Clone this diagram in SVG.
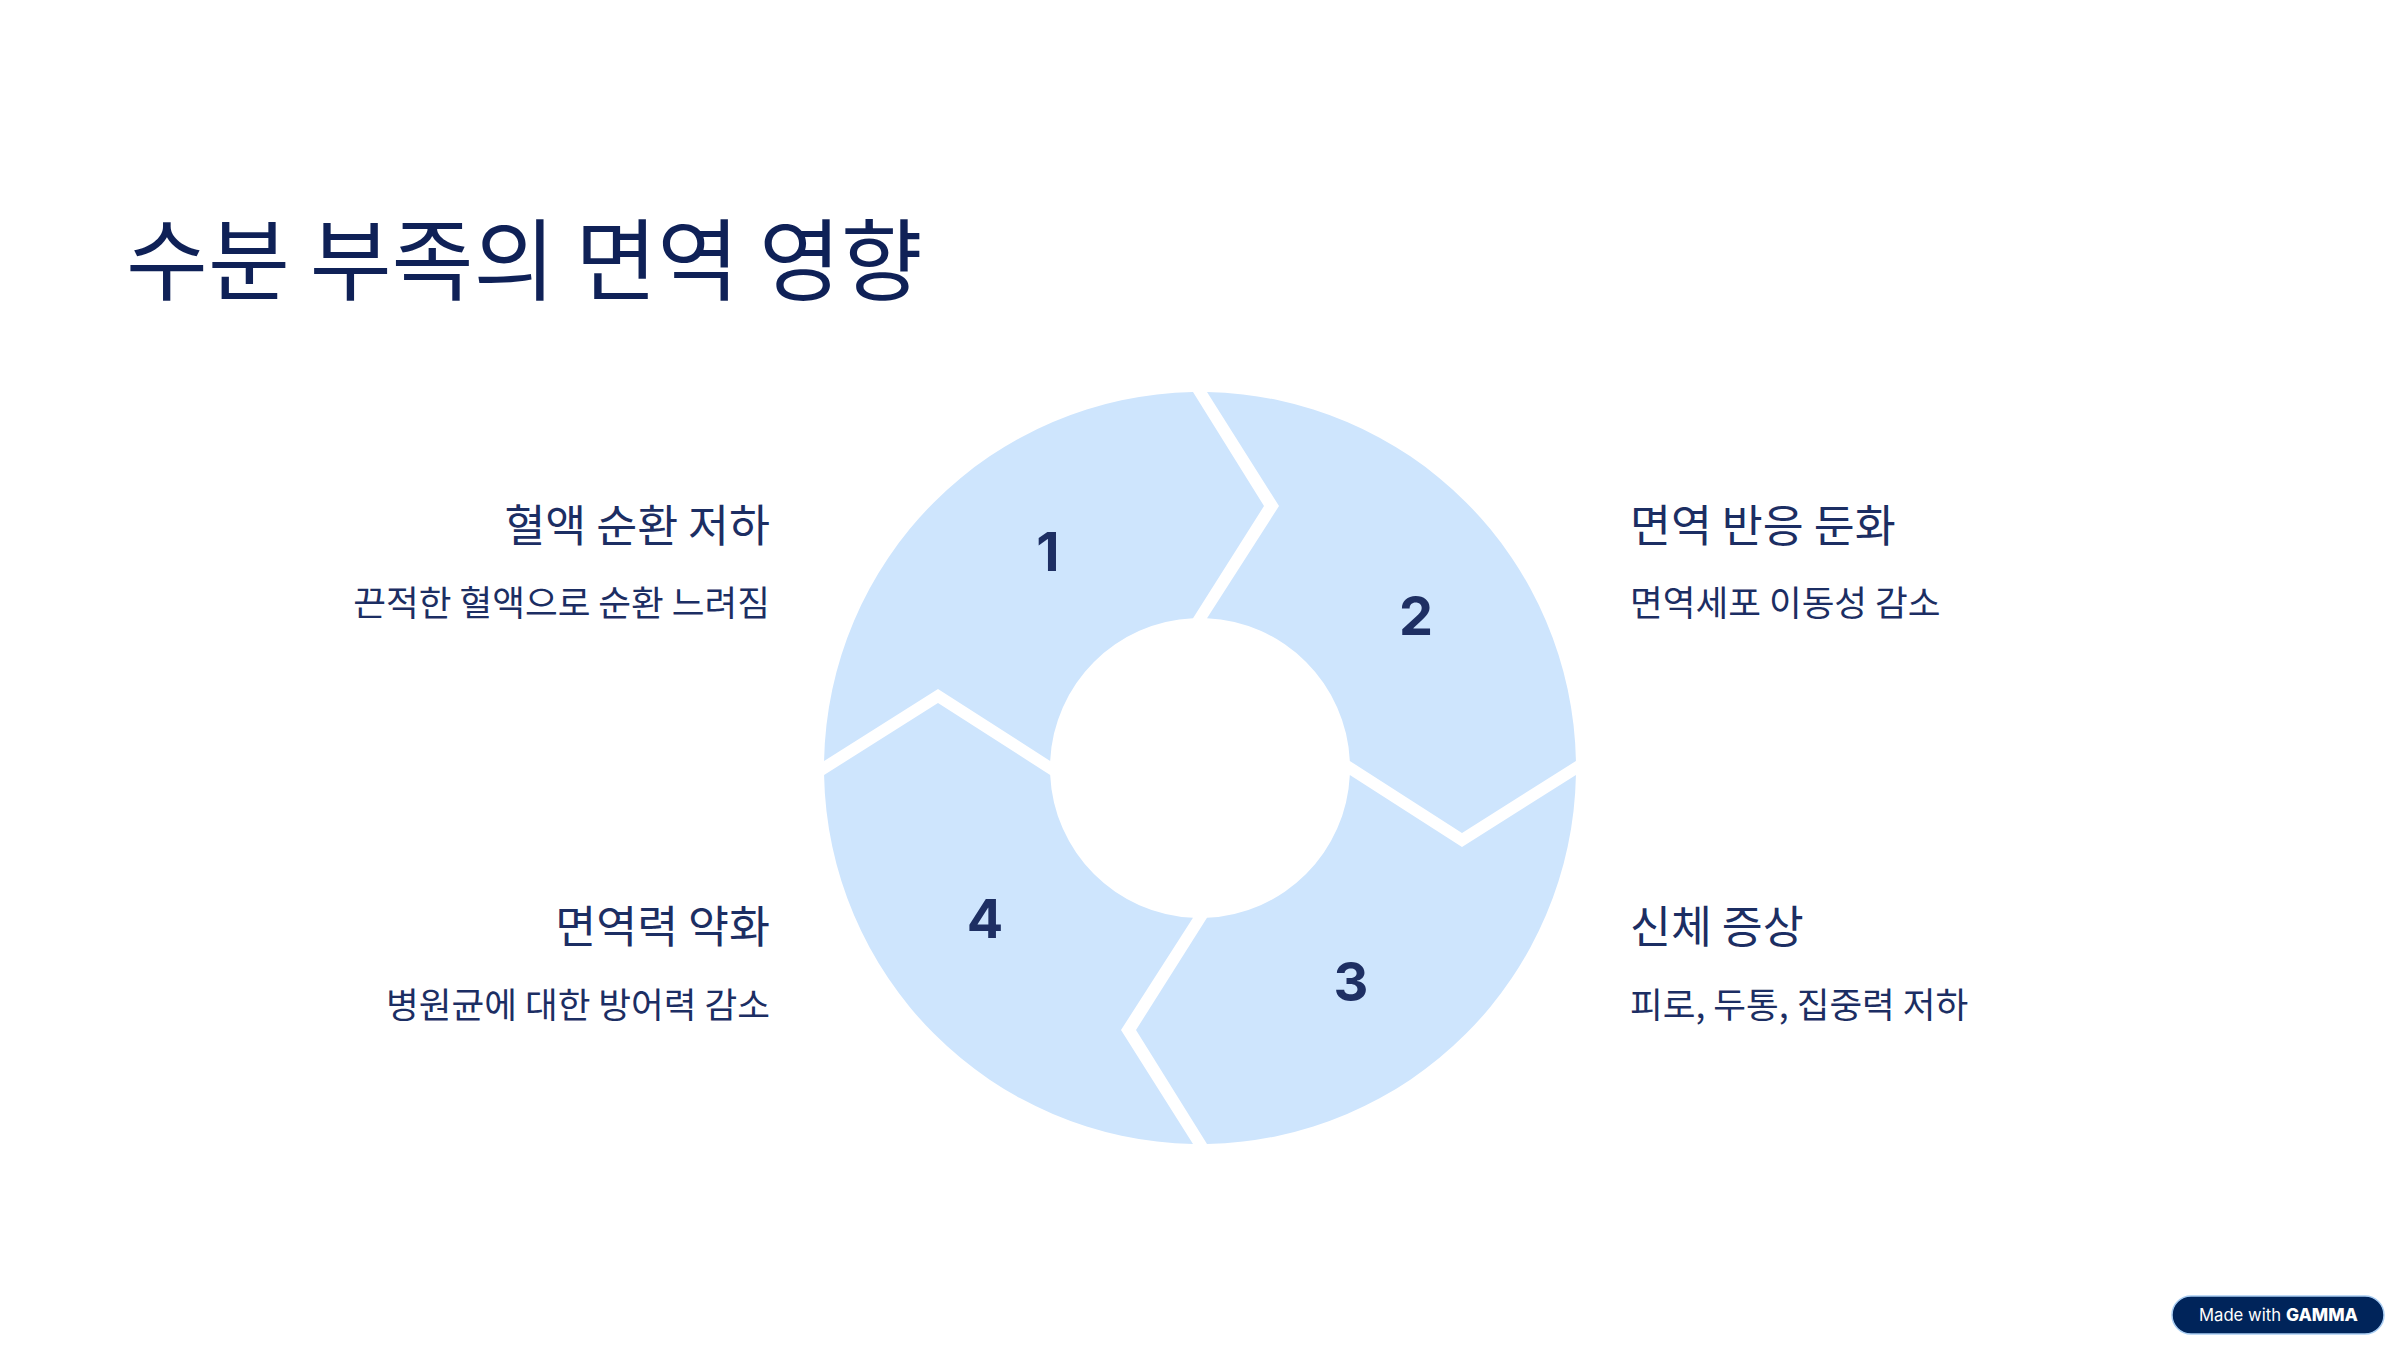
<svg xmlns="http://www.w3.org/2000/svg" width="2400" height="1350" viewBox="0 0 2400 1350">
<style>
text{font-family:"Noto Sans CJK KR","Noto Sans",sans-serif}
.title{font-size:89px;fill:#0f2157;font-weight:400}
.head{font-size:44.5px;fill:#1c2e63;font-weight:400}
.sub{font-size:35.6px;fill:#1c2e63;font-weight:400}
.seg{fill:#cee5fd}
.num{font-family:Inter,"Liberation Sans",sans-serif;font-size:54px;font-weight:700;fill:#1e2f63;text-anchor:middle}
.end{text-anchor:end}
</style>
<rect width="2400" height="1350" fill="#fff"/>
<text id="title" class="title" x="126" y="293">수분 부족의 면역 영향</text>
<g id="node-1">
<path class="seg" d="M824.07 761A376 376 0 0 1 1193 392.07L1264 506L1193 618.16A150 150 0 0 0 1050.16 761L938 689Z"/>
<text class="num" x="1048" y="571">1</text>
<text class="head end" x="770" y="542">혈액 순환 저하</text>
<text class="sub end" x="770" y="616">끈적한 혈액으로 순환 느려짐</text>
</g>
<g id="node-2">
<path class="seg" d="M1207 392.07A376 376 0 0 1 1575.93 761L1462 833L1349.84 761A150 150 0 0 0 1207 618.16L1279 506Z"/>
<text class="num" x="1416" y="635">2</text>
<text class="head" x="1630" y="542">면역 반응 둔화</text>
<text class="sub" x="1630" y="616">면역세포 이동성 감소</text>
</g>
<g id="node-3">
<path class="seg" d="M1575.93 775A376 376 0 0 1 1207 1143.93L1136 1030L1207 917.84A150 150 0 0 0 1349.84 775L1462 847Z"/>
<text class="num" x="1351" y="1001">3</text>
<text class="head" x="1630" y="943">신체 증상</text>
<text class="sub" x="1630" y="1018">피로, 두통, 집중력 저하</text>
</g>
<g id="node-4">
<path class="seg" d="M1193 1143.93A376 376 0 0 1 824.07 775L938 703L1050.16 775A150 150 0 0 0 1193 917.84L1121 1030Z"/>
<text class="num" x="985" y="938">4</text>
<text class="head end" x="770" y="943">면역력 약화</text>
<text class="sub end" x="770" y="1018">병원균에 대한 방어력 감소</text>
</g>
<g id="connectors"></g>
<g id="badge">
<rect x="2172" y="1296" width="212" height="38" rx="19" fill="#00245a" stroke="#a9cdf2" stroke-width="1.5"/>
<text x="2199" y="1321" font-size="17" fill="#fff" style="font-family:Inter,sans-serif" textLength="82" lengthAdjust="spacingAndGlyphs">Made with</text>
<text x="2286" y="1321" font-size="17" font-weight="800" fill="#fff" style="font-family:Inter,sans-serif" textLength="72" lengthAdjust="spacingAndGlyphs">GAMMA</text>
</g>
</svg>
